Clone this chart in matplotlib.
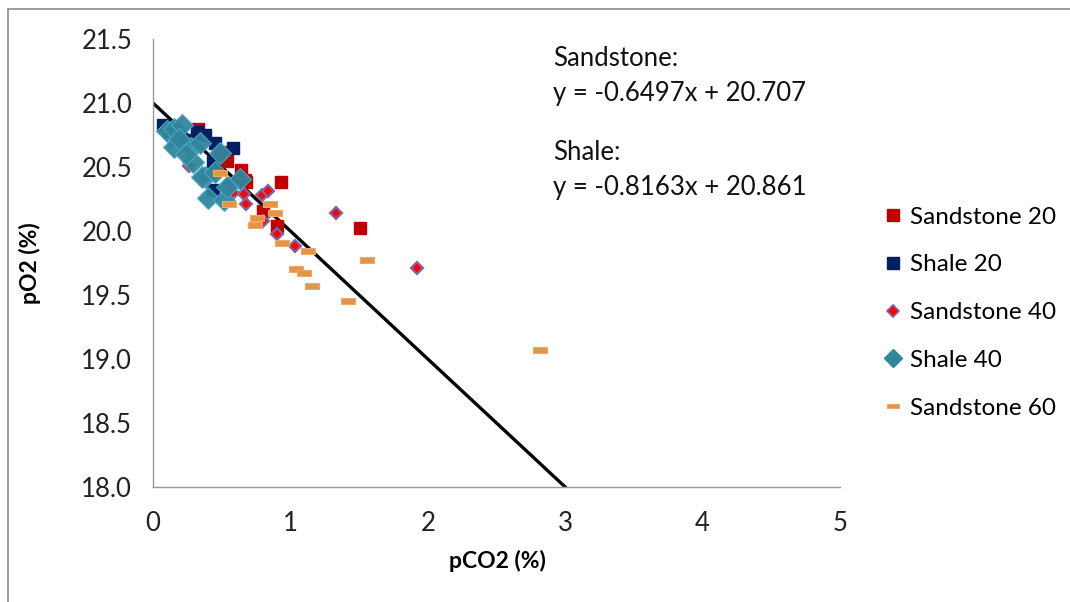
import numpy as np
import matplotlib.pyplot as plt
from matplotlib.lines import Line2D

plt.rcParams['font.family'] = ['Lato', 'DejaVu Sans']

# pCO2 / pO2 readings (%)
ss20_co2 = [0.33, 0.54, 0.64, 0.67, 0.68, 0.93, 0.80, 0.90, 1.51, 0.49]
ss20_o2 = [20.80, 20.55, 20.48, 20.40, 20.38, 20.38, 20.16, 20.04, 20.02, 20.62]

sh20_co2 = [0.07, 0.25, 0.32, 0.45, 0.58, 0.44, 0.44, 0.16, 0.38, 0.12]
sh20_o2 = [20.83, 20.71, 20.77, 20.69, 20.65, 20.54, 20.32, 20.71, 20.75, 20.78]

ss40_co2 = [0.26, 0.58, 0.66, 0.68, 0.79, 0.84, 0.80, 0.90, 1.03, 1.33, 1.92, 0.55]
ss40_o2 = [20.51, 20.30, 20.29, 20.21, 20.28, 20.31, 20.08, 19.98, 19.88, 20.14, 19.71, 20.37]

sh40_co2 = [0.10, 0.15, 0.21, 0.15, 0.28, 0.34, 0.49, 0.38, 0.29, 0.36,
            0.40, 0.52, 0.63, 0.54, 0.24, 0.45, 0.19]
sh40_o2 = [20.78, 20.80, 20.83, 20.66, 20.65, 20.69, 20.61, 20.42, 20.54, 20.42,
           20.26, 20.24, 20.41, 20.34, 20.60, 20.46, 20.72]

ss60_co2 = [0.49, 0.55, 0.85, 0.89, 0.76, 0.74, 0.94, 1.13, 1.04, 1.10, 1.16, 1.42, 1.56, 2.82]
ss60_o2 = [20.45, 20.21, 20.21, 20.14, 20.10, 20.05, 19.91, 19.84, 19.70, 19.67, 19.57, 19.45, 19.77, 19.07]

# pO2 + pCO2 = 21 reference line
ref_co2 = [0, 3]
ref_o2 = [21.0, 18.0]

fig = plt.figure(figsize=(10.7, 6.02), dpi=100)
ax = fig.add_axes([153 / 1070, 1 - 487 / 602, 687 / 1070, 448 / 602])

dash = [(-1, -0.4), (1, -0.4), (1, 0.4), (-1, 0.4), (-1, -0.4)]

ax.plot(ref_co2, ref_o2, color='black', lw=2.4, zorder=1)
ax.plot(ss20_co2, ss20_o2, 's', ms=8.8, color='#C00000', mec='#C00000', zorder=2)
ax.plot(sh20_co2, sh20_o2, 's', ms=8.8, color='#002060', mec='#002060', zorder=3)
ax.plot(ss40_co2, ss40_o2, 'D', ms=6.5, color='#FF0000', mec='#8064A2', mew=1.6, zorder=4)
ax.plot(sh40_co2, sh40_o2, 'D', ms=11.5, color='#31859C', mec='#4BACC6', mew=0.8, alpha=0.95, zorder=5)
ax.plot(ss60_co2, ss60_o2, ls='none', marker=dash, ms=9.5, color='#E59447', mec='#F0A868', mew=0.8, zorder=6)

ax.set_xlim(0, 5)
ax.set_ylim(18, 21.5)
ax.set_xticks(range(0, 6))
ax.set_yticks(np.arange(18, 21.51, 0.5))
ax.set_yticklabels([f'{v:.1f}' for v in np.arange(18, 21.51, 0.5)])
ax.tick_params(length=0, labelsize=18.5, colors='#222222')
ax.tick_params(axis='x', pad=17)
ax.tick_params(axis='y', pad=15)
for s in ['top', 'right']:
    ax.spines[s].set_visible(False)
for s in ['left', 'bottom']:
    ax.spines[s].set_color('#9a9a9a')
    ax.spines[s].set_linewidth(1.0)

ax.set_xlabel('pCO2 (%)', fontsize=16.5, fontweight='bold', va='center')
ax.set_ylabel('pO2 (%)', fontsize=16.5, fontweight='bold', va='center')
ax.xaxis.set_label_coords((497 - 153) / 687, (487 - 561) / 448)
ax.yaxis.set_label_coords((30 - 153) / 687, (487 - 263) / 448)

txt = dict(fontsize=18.5, va='center', color='#111111')
fig.text(553 / 1070, 1 - 58 / 602, 'Sandstone:', **txt)
fig.text(553 / 1070, 1 - 94 / 602, 'y = -0.6497x + 20.707', **txt)
fig.text(553 / 1070, 1 - 152 / 602, 'Shale:', **txt)
fig.text(553 / 1070, 1 - 187 / 602, 'y = -0.8163x + 20.861', **txt)

handles = [
    Line2D([], [], ls='none', marker='s', ms=9, color='#C00000'),
    Line2D([], [], ls='none', marker='s', ms=9, color='#002060'),
    Line2D([], [], ls='none', marker='D', ms=6.5, color='#FF0000', mec='#8064A2', mew=1.2),
    Line2D([], [], ls='none', marker='D', ms=9, color='#31859C'),
    Line2D([], [], ls='none', marker=dash, ms=8, color='#E59447', mec='#F0A868', mew=0.8),
]
labels = ['Sandstone 20', 'Shale 20', 'Sandstone 40', 'Shale 40', 'Sandstone 60']
fig.legend(handles, labels, loc='upper left', bbox_to_anchor=(874 / 1070, 1 - 197 / 602),
           frameon=False, fontsize=17.5, labelspacing=1.1, handlelength=0.8,
           handletextpad=0.3, borderaxespad=0)

# outer chart frame (left and top edges)
fig.add_artist(Line2D([8 / 1070, 8 / 1070], [0, 1 - 9 / 602], transform=fig.transFigure,
                      color='#8c8c8c', lw=1.2))
fig.add_artist(Line2D([8 / 1070, 1], [1 - 9 / 602, 1 - 9 / 602], transform=fig.transFigure,
                      color='#8c8c8c', lw=1.2))

fig.savefig('out.png', dpi=100)
